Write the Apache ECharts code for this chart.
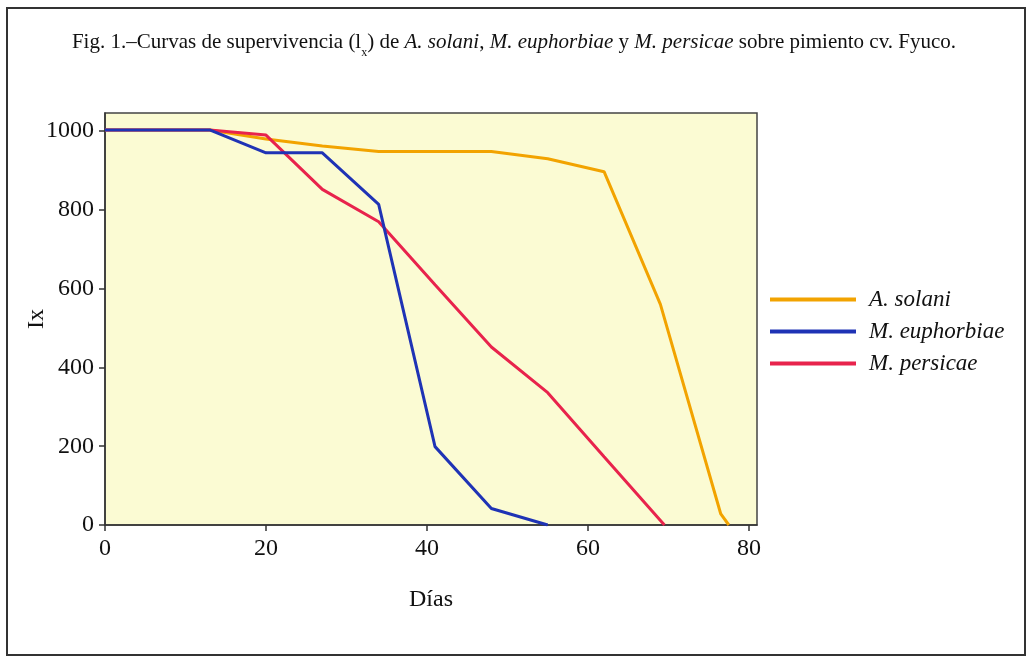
<!DOCTYPE html>
<html>
<head>
<meta charset="utf-8">
<script src="https://cdn.jsdelivr.net/npm/echarts@6/dist/echarts.min.js"></script>
<style>
html,body{margin:0;padding:0;background:#fff;}
#c{width:1028px;height:658px;}
</style>
</head>
<body>
<div id="c"></div>
<script>
// Data
var seriesNames = ['A. solani', 'M. euphorbiae', 'M. persicae'];
var solaniDias = [0, 13, 20, 27, 34, 41, 48, 55, 62, 69, 76.5, 77.5];
var solaniLx   = [1003, 1003, 980, 962, 948, 948, 948, 930, 897, 560, 28, 0];
var euphorbiaeDias = [0, 13, 20, 27, 34, 41, 48, 55];
var euphorbiaeLx   = [1003, 1003, 945, 945, 814, 199, 42, 0];
var persicaeDias = [0, 13, 20, 27, 34, 41, 48, 55, 62, 69.5];
var persicaeLx   = [1003, 1003, 990, 852, 770, 610, 452, 336, 173, 0];
var xTicks = [0, 20, 40, 60, 80];
var yTicks = [0, 200, 400, 600, 800, 1000];

function pairs(xs, ys) { return xs.map(function (x, i) { return [x, ys[i]]; }); }

var FONT = '"Liberation Serif", "Times New Roman", serif';
var chart = echarts.init(document.getElementById('c'), null, {renderer: 'canvas'});
var option = {
  backgroundColor: '#ffffff',
  animation: false,
  title: {
    left: 'center',
    top: 22,
    text: '{n|Fig. 1.–Curvas de supervivencia (l}{s|x}{n|) de }{i|A. solani}{n|, }{i|M. euphorbiae}{n| y }{i|M. persicae}{n| sobre pimiento cv. Fyuco.}',
    textStyle: {
      fontFamily: FONT, fontWeight: 'normal',
      rich: {
        n: {fontFamily: FONT, fontSize: 21, fontWeight: 'normal', color: '#111', verticalAlign: 'bottom', lineHeight: 26},
        i: {fontFamily: FONT, fontSize: 21, fontWeight: 'normal', color: '#111', fontStyle: 'italic', verticalAlign: 'bottom', lineHeight: 26},
        s: {fontFamily: FONT, fontSize: 12, fontWeight: 'normal', color: '#111', verticalAlign: 'bottom', lineHeight: 26, padding: [0, 0, -6, 0]}
      }
    }
  },
  graphic: [{
    type: 'rect',
    shape: {x: 7, y: 8, width: 1018, height: 647},
    style: {fill: 'none', stroke: '#333', lineWidth: 2},
    z: 100, silent: true
  }],
  grid: {
    left: 105, top: 113, width: 652, height: 412,
    containLabel: false, outerBoundsMode: 'none',
    show: true, backgroundColor: '#fbfbd3', borderColor: '#444', borderWidth: 1.5
  },
  legend: {
    orient: 'vertical',
    left: 765, top: 283,
    itemWidth: 86, itemHeight: 4, itemGap: 9,
    icon: 'rect',
    data: seriesNames,
    textStyle: {fontFamily: FONT, fontSize: 23, fontStyle: 'italic', color: '#111', padding: [0, 0, 0, 8]}
  },
  xAxis: {
    type: 'value', min: 0, max: 81, interval: 20,
    name: 'Días', nameLocation: 'middle', nameGap: 63, nameMoveOverlap: false,
    nameTextStyle: {fontFamily: FONT, fontSize: 24, color: '#111'},
    axisLine: {show: true, onZero: false, lineStyle: {color: '#333', width: 1.5}},
    axisTick: {show: true, inside: false, length: 6, lineStyle: {color: '#333', width: 1.5},
      customValues: xTicks},
    axisLabel: {fontFamily: FONT, fontSize: 24, color: '#111', margin: 12,
      customValues: xTicks, formatter: function (v) { return String(v); }},
    splitLine: {show: false}
  },
  yAxis: {
    type: 'value', min: 0, max: 1046, interval: 200,
    name: 'Ix', nameLocation: 'middle', nameGap: 56, nameRotate: 90, nameMoveOverlap: false,
    nameTextStyle: {fontFamily: FONT, fontSize: 24, color: '#111'},
    axisLine: {show: true, onZero: false, lineStyle: {color: '#333', width: 1.5}},
    axisTick: {show: true, inside: false, length: 6, lineStyle: {color: '#333', width: 1.5},
      customValues: yTicks},
    axisLabel: {fontFamily: FONT, fontSize: 24, color: '#111', margin: 11,
      customValues: yTicks, formatter: function (v) { return String(v); }},
    splitLine: {show: false}
  },
  series: [
    {name: seriesNames[0], type: 'line', data: pairs(solaniDias, solaniLx), showSymbol: false,
      lineStyle: {color: '#f2a300', width: 3}, itemStyle: {color: '#f2a300'}, z: 2},
    {name: seriesNames[2], type: 'line', data: pairs(persicaeDias, persicaeLx), showSymbol: false,
      lineStyle: {color: '#e8234c', width: 3}, itemStyle: {color: '#e8234c'}, z: 3},
    {name: seriesNames[1], type: 'line', data: pairs(euphorbiaeDias, euphorbiaeLx), showSymbol: false,
      lineStyle: {color: '#1f33b5', width: 3}, itemStyle: {color: '#1f33b5'}, z: 4}
  ]
};
chart.setOption(option);
</script>
</body>
</html>
